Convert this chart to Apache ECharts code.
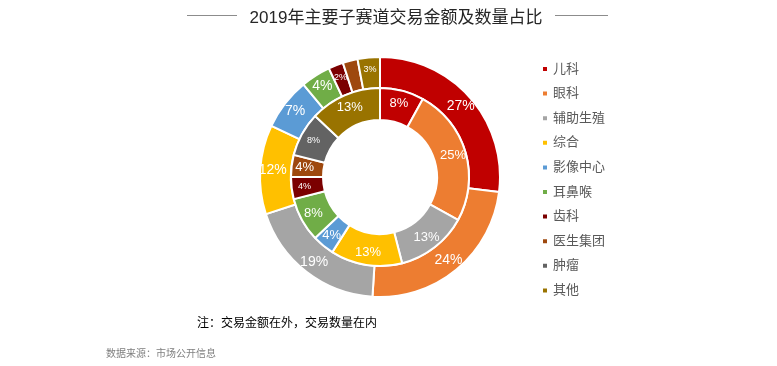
<!DOCTYPE html>
<html><head><meta charset="utf-8">
<script src="https://cdn.jsdelivr.net/npm/echarts@6/dist/echarts.min.js"></script>
<style>html,body{margin:0;padding:0;background:#fff;}#c{width:777px;height:366px;}</style>
</head><body><div id="c"></div>
<script>
var categories = ['儿科','眼科','辅助生殖','综合','影像中心','耳鼻喉','齿科','医生集团','肿瘤','其他'];
var outerValues = [27, 24, 19, 12, 7, 4, 2, 2, 0, 3];   // 交易金额 (%)
var innerValues = [8, 25, 13, 13, 4, 8, 4, 4, 8, 13];   // 交易数量 (%)
var titleText = '2019年主要子赛道交易金额及数量占比';
var noteText = '注：交易金额在外，交易数量在内';
var sourceText = '数据来源：市场公开信息';

var colors = ['#C00000','#ED7D31','#A5A5A5','#FFC000','#5B9BD5','#70AD47','#7B0000','#9E480E','#636363','#997300'];
var FONT = 'Liberation Sans, Noto Sans CJK SC, sans-serif';
var smallOuter = {'齿科':1,'医生集团':1,'其他':1};
var smallInner = {'齿科':1,'肿瘤':1};

function build(vals, smallSet, bigSize) {
  var out = [];
  for (var i = 0; i < categories.length; i++) {
    if (!vals[i]) continue;
    var small = smallSet[categories[i]];
    out.push({
      name: categories[i], value: vals[i],
      itemStyle: {color: colors[i]},
      label: {fontSize: small ? 9 : bigSize}
    });
  }
  return out;
}

var chart = echarts.init(document.getElementById('c'), null, {renderer: 'canvas'});
var labelCommon = {show: true, position: 'inside', color: '#fff', fontFamily: FONT,
  formatter: function (p) { return p.value + '%'; }};
chart.setOption({
  animation: false,
  title: {text: titleText, left: 391, textAlign: 'center', top: 5,
    textStyle: {fontSize: 17, fontWeight: 'normal', color: '#262626', fontFamily: FONT}},
  legend: {
    orient: 'vertical', left: 536, top: 57,
    data: categories, icon: 'rect', itemWidth: 6, itemHeight: 6, itemGap: 10.6,
    textStyle: {fontSize: 13, color: '#595959', fontFamily: FONT, lineHeight: 14}
  },
  graphic: [
    {type: 'line', shape: {x1: 187, y1: 15.5, x2: 237, y2: 15.5}, style: {stroke: '#8c8c8c', lineWidth: 1}},
    {type: 'line', shape: {x1: 555, y1: 15.5, x2: 608, y2: 15.5}, style: {stroke: '#8c8c8c', lineWidth: 1}},
    {type: 'text', left: 197, top: 318, style: {text: noteText, fontSize: 12, fill: '#000', fontFamily: FONT}},
    {type: 'text', left: 106, top: 349, style: {text: sourceText, fontSize: 10, fill: '#7f7f7f', fontFamily: FONT}}
  ],
  series: [
    {type: 'pie', name: '交易金额', center: [380, 177], radius: [89, 120], startAngle: 90, clockwise: true,
     avoidLabelOverlap: false, labelLine: {show: false},
     itemStyle: {borderColor: '#fff', borderWidth: 2},
     label: labelCommon, data: build(outerValues, smallOuter, 14)},
    {type: 'pie', name: '交易数量', center: [380, 177], radius: [57, 89], startAngle: 90, clockwise: true,
     avoidLabelOverlap: false, labelLine: {show: false},
     itemStyle: {borderColor: '#fff', borderWidth: 2},
     label: labelCommon, data: build(innerValues, smallInner, 13)}
  ]
});
</script>
</body></html>
